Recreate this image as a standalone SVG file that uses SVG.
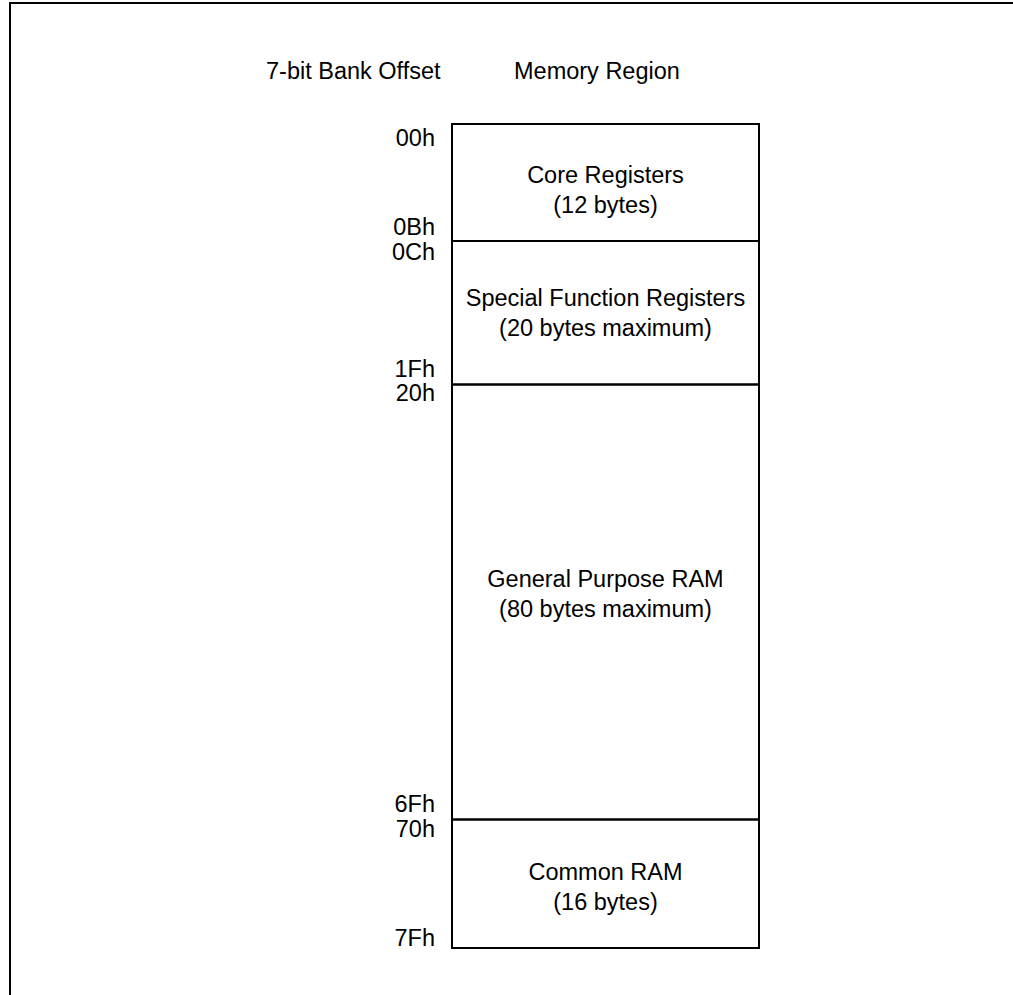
<svg xmlns="http://www.w3.org/2000/svg" width="1013" height="995" viewBox="0 0 1013 995">
<style>
text{font-family:"Liberation Sans",Arial,sans-serif;font-size:23.5px;fill:#000}
.c{text-anchor:middle}
.r{text-anchor:end}
.ln{stroke:#000;stroke-width:2;fill:none}
</style>
<rect width="1013" height="995" fill="#fff"/>
<g id="frame"><path class="ln" d="M10,995 V3 H1013"/></g>
<g id="headers">
<text x="266" y="79">7-bit Bank Offset</text>
<text x="514" y="79">Memory Region</text>
</g>
<g id="core">
<rect class="ln" x="452" y="124" width="307" height="117"/>
<text class="c" x="605.5" y="183">Core Registers</text>
<text class="c" x="605.5" y="213">(12 bytes)</text>
<text class="r" x="435" y="146">00h</text>
<text class="r" x="435" y="235">0Bh</text>
</g>
<g id="sfr">
<rect class="ln" x="452" y="241" width="307" height="143.5"/>
<text class="c" x="605.5" y="306">Special Function Registers</text>
<text class="c" x="605.5" y="336">(20 bytes maximum)</text>
<text class="r" x="435" y="260">0Ch</text>
<text class="r" x="435" y="377">1Fh</text>
</g>
<g id="gpr">
<rect class="ln" x="452" y="384.5" width="307" height="435"/>
<text class="c" x="605.5" y="587">General Purpose RAM</text>
<text class="c" x="605.5" y="617">(80 bytes maximum)</text>
<text class="r" x="435" y="401">20h</text>
<text class="r" x="435" y="812">6Fh</text>
</g>
<g id="common">
<rect class="ln" x="452" y="819.5" width="307" height="128.5"/>
<text class="c" x="605.5" y="880">Common RAM</text>
<text class="c" x="605.5" y="910">(16 bytes)</text>
<text class="r" x="435" y="837">70h</text>
<text class="r" x="435" y="946">7Fh</text>
</g>
<g id="connectors"></g>
</svg>
